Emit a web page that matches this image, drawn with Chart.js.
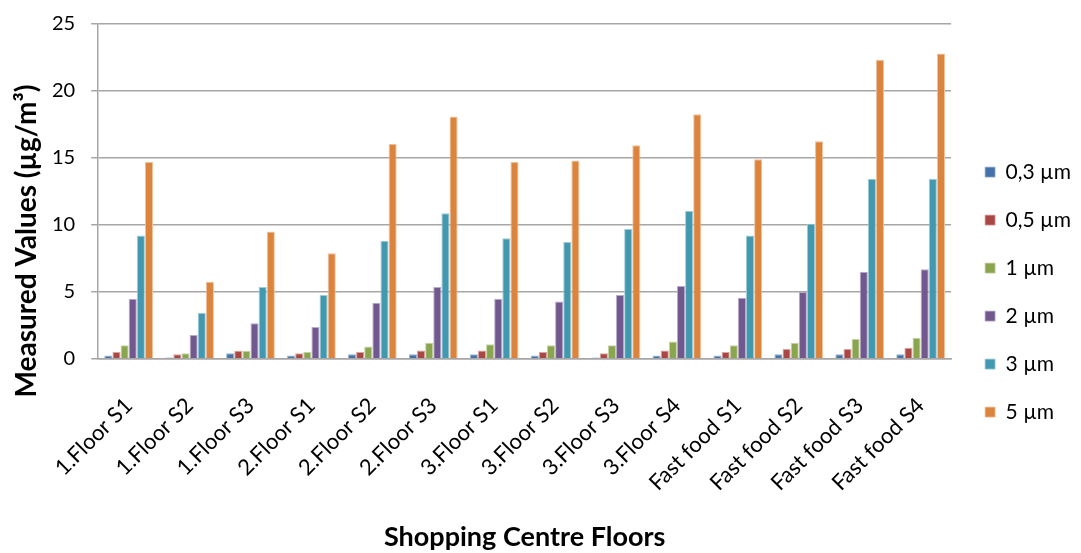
<!DOCTYPE html>
<html>
<head>
<meta charset="utf-8">
<script src="https://cdn.jsdelivr.net/npm/chart.js@4/dist/chart.umd.min.js"></script>
<style>
  html, body { margin: 0; padding: 0; background: #fff; }
  #wrap { width: 1081px; height: 553px; position: relative; }
</style>
</head>
<body>
<div id="wrap"><canvas id="pmChart"></canvas></div>
<script>
// categories and particle-size series
const floors = ['1.Floor S1', '1.Floor S2', '1.Floor S3', '2.Floor S1', '2.Floor S2', '2.Floor S3',
    '3.Floor S1', '3.Floor S2', '3.Floor S3', '3.Floor S4',
    'Fast food S1', 'Fast food S2', 'Fast food S3', 'Fast food S4'];
const sizeLabels = ['0,3 µm', '0,5 µm', '1 µm', '2 µm', '3 µm', '5 µm'];

const pm03 = [0.24, 0.10, 0.40, 0.24, 0.34, 0.34, 0.34, 0.24, 0.10, 0.24, 0.24, 0.34, 0.34, 0.34];
const pm05 = [0.50, 0.33, 0.60, 0.40, 0.50, 0.62, 0.62, 0.50, 0.40, 0.62, 0.50, 0.72, 0.72, 0.82];
const pm1  = [1.00, 0.40, 0.60, 0.50, 0.92, 1.19, 1.09, 1.00, 1.00, 1.29, 1.00, 1.19, 1.47, 1.57];
const pm2  = [4.48, 1.77, 2.65, 2.37, 4.18, 5.36, 4.48, 4.28, 4.76, 5.44, 4.56, 4.98, 6.49, 6.69];
const pm3  = [9.20, 3.43, 5.36, 4.76, 8.82, 10.86, 9.00, 8.72, 9.68, 11.03, 9.20, 10.08, 13.44, 13.44];
const pm5  = [14.70, 5.74, 9.50, 7.87, 16.05, 18.09, 14.70, 14.80, 15.95, 18.26, 14.90, 16.25, 22.33, 22.80];

const yTicks = [0, 5, 10, 15, 20, 25];
const yTitle = 'Measured Values (µg/m³)';

const fills = ['#4572A7', '#AA4643', '#89A54E', '#71588F', '#4198AF', '#DB843D'];
const edges = ['#9db4d3', '#d9a3a1', '#c4d3a6', '#b8abc8', '#a0ccd7', '#f0c29e'];

const seriesValues = [pm03, pm05, pm1, pm2, pm3, pm5];
const datasets = seriesValues.map((vals, i) => ({
    label: sizeLabels[i],
    data: vals,
    backgroundColor: fills[i],
    borderColor: edges[i],
    borderWidth: { left: 1, right: 1, top: 1, bottom: 0 },
    categoryPercentage: 0.8,
    barPercentage: 1.0
}));

const fontFamily = "'Lato', 'Open Sans', sans-serif";

// push the legend a little further from the plot than its item padding allows
const legendNudge = {
    id: 'legendNudge',
    afterLayout(chart) {
        chart.legend.left += 7;
        chart.legend.right += 7;
    }
};

// vertical axis title, centred lower than the plot area (space kept by layout padding)
const sideTitle = {
    id: 'sideTitle',
    afterDraw(chart) {
        const c = chart.ctx;
        c.save();
        c.translate(27, 241);
        c.rotate(-Math.PI / 2);
        c.font = 'bold 28px ' + fontFamily;
        c.fillStyle = '#000';
        c.textAlign = 'center';
        c.textBaseline = 'middle';
        c.fillText(yTitle, 0, 0);
        c.restore();
    }
};

Chart.defaults.font.family = fontFamily;
Chart.defaults.color = '#000';

const ctx = document.getElementById('pmChart').getContext('2d');
new Chart(ctx, {
    type: 'bar',
    data: { labels: floors, datasets: datasets },
    plugins: [legendNudge, sideTitle],
    options: {
        responsive: true,
        maintainAspectRatio: false,
        animation: false,
        layout: { padding: { left: 36, right: 7, top: 24, bottom: 0 } },
        plugins: {
            tooltip: { enabled: false },
            legend: {
                position: 'right',
                title: { display: true, text: ' ', font: { size: 6 }, padding: 0 },
                labels: {
                    boxWidth: 10,
                    boxHeight: 10,
                    padding: 27,
                    font: { size: 21 },
                    color: '#000'
                }
            }
        },
        scales: {
            x: {
                grid: { display: false, drawTicks: false },
                border: { display: true, color: '#a6a6a6', width: 1.5 },
                ticks: {
                    minRotation: 45,
                    maxRotation: 45,
                    padding: 34,
                    font: { size: 22 },
                    color: '#000'
                },
                title: {
                    display: true,
                    text: 'Shopping Centre Floors',
                    font: { size: 27, weight: 'bold' },
                    color: '#000',
                    padding: { top: 0, bottom: 0 }
                },
                afterFit: axis => {
                    axis.height -= 9.5;
                    axis.paddingLeft = 0;
                    axis.paddingRight = 0;
                }
            },
            y: {
                min: 0,
                max: 25,
                afterBuildTicks: axis => { axis.ticks = yTicks.map(v => ({ value: v })); },
                grid: { color: '#a6a6a6', lineWidth: 1.5, tickLength: 7 },
                border: { display: true, color: '#a6a6a6', width: 1.5 },
                ticks: {
                    padding: 16,
                    font: { size: 20 },
                    color: '#000'
                },
                afterFit: axis => {
                    axis.paddingTop = 0;
                    axis.paddingBottom = 0;
                }
            }
        }
    }
});
</script>
</body>
</html>
